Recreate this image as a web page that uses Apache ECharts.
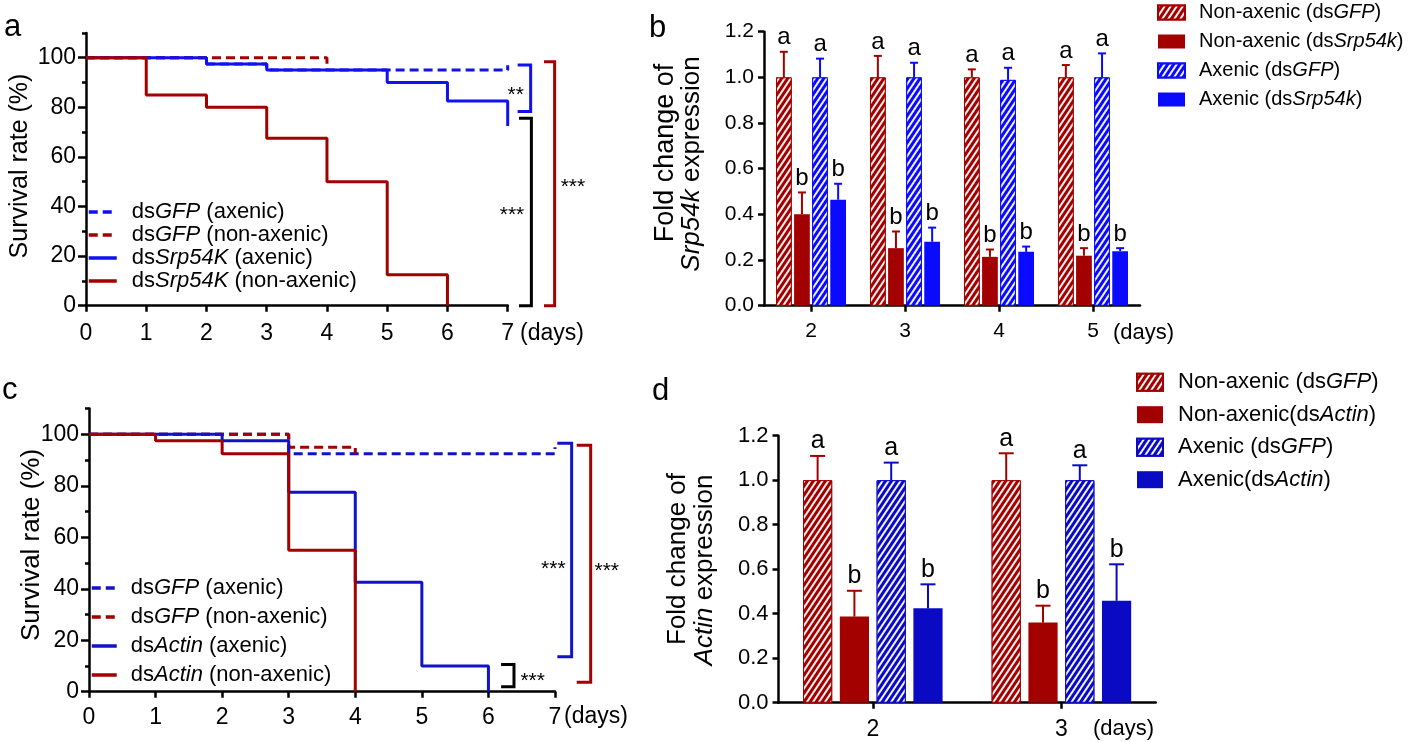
<!DOCTYPE html>
<html><head><meta charset="utf-8">
<script src="https://cdn.jsdelivr.net/npm/echarts@6/dist/echarts.min.js"></script>
<style>html,body{margin:0;padding:0;background:#fff}#c{width:1418px;height:742px}</style>
</head><body><div id="c"></div>
<script>
// ---------- Panel a : survival (Srp54K) ----------
const aGfpAxDays  = [0, 2, 3, 7, 7];
const aGfpAxRate  = [100, 97.5, 95, 95, 97];
const aGfpNonDays = [0, 4];
const aGfpNonRate = [100, 95];
const aSrpAxDays  = [0, 2, 3, 5, 6, 7];
const aSrpAxRate  = [100, 97.5, 95, 90, 82.5, 72.5];
const aSrpNonDays = [0, 1, 2, 3, 4, 5, 6];
const aSrpNonRate = [100, 85, 80, 67.5, 50, 12.5, 0];
// ---------- Panel c : survival (Actin) ----------
const cGfpAxDays  = [0, 3, 7, 7];
const cGfpAxRate  = [100, 92.5, 92.5, 95];
const cGfpNonDays = [0, 3, 4];
const cGfpNonRate = [100, 95, 92.5];
const cActAxDays  = [0, 2, 3, 4, 5, 6];
const cActAxRate  = [100, 97.5, 77.5, 42.5, 10, 0];
const cActNonDays = [0, 1, 2, 3, 4];
const cActNonRate = [100, 97.5, 92.5, 55, 0];
// ---------- Panel b : Srp54k expression ----------
const bDays      = ['2', '3', '4', '5'];
const bNonGfp    = [1.0, 1.0, 1.0, 1.0];
const bNonGfpErr = [0.112, 0.094, 0.035, 0.054];
const bNonSrp    = [0.40, 0.252, 0.214, 0.219];
const bNonSrpErr = [0.096, 0.073, 0.032, 0.033];
const bAxGfp     = [1.0, 1.0, 0.989, 1.0];
const bAxGfpErr  = [0.082, 0.064, 0.053, 0.105];
const bAxSrp     = [0.464, 0.28, 0.236, 0.239];
const bAxSrpErr  = [0.07, 0.062, 0.023, 0.013];
const bLetters   = ['a', 'b', 'a', 'b'];
// ---------- Panel d : Actin expression ----------
const dDays      = ['2', '3'];
const dNonGfp    = [1.0, 1.0];
const dNonGfpErr = [0.109, 0.121];
const dNonAct    = [0.387, 0.36];
const dNonActErr = [0.116, 0.076];
const dAxGfp     = [1.0, 1.0];
const dAxGfpErr  = [0.079, 0.067];
const dAxAct     = [0.424, 0.458];
const dAxActErr  = [0.108, 0.164];
const dLetters   = ['a', 'b', 'a', 'b'];
// ---------- tick labels ----------
const survMajorTicks = [0, 20, 40, 60, 80, 100];
const foldTicks = [0, 0.2, 0.4, 0.6, 0.8, 1.0, 1.2];

const FONT = 'Liberation Sans, Arial, Helvetica, sans-serif';
const RED = '#a30000', BLUE_A = '#1010f0', BLUE_C = '#1212c8', BLUE_B = '#0a0aff', BLUE_D = '#0a0ac4';

const zip = (xs, ys) => xs.map((x, i) => [x, ys[i]]);

// significance brackets (data coordinates of their panel)
const aBrackets = [
  {vx: 7.381, ax: 7.165, top: 97.1, bot: 78.3, color: BLUE_A, label: '**',  lx: 7.132, ly: 86.7},
  {vx: 7.393, ax: 7.187, top: 75.6, bot: 0,    color: '#000', label: '***', lx: 7.071, ly: 38.7},
  {vx: 7.779, ax: 7.602, top: 98.4, bot: 0,    color: RED,    label: '***', lx: 8.083, ly: 49.7}
];
const cBrackets = [
  {vx: 7.25,  ax: 7.035, top: 96.5, bot: 13.6, color: BLUE_C, label: '***', lx: 6.975, ly: 49.6},
  {vx: 7.536, ax: 7.326, top: 95.8, bot: 3.65, color: RED,    label: '***', lx: 7.777, ly: 48.6},
  {vx: 6.384, ax: 6.19,  top: 10.6, bot: 1.9,  color: '#000', label: '***', lx: 6.665, ly: 6.1}
];

function bracketSeries(list, xi, yi) {
  return {
    type: 'custom', xAxisIndex: xi, yAxisIndex: yi, clip: false, silent: true, z: 5,
    data: list.map((b, i) => [b.vx, b.top, i]),
    renderItem: function (params, api) {
      const b = list[api.value(2)];
      const p1 = api.coord([b.ax, b.top]), p2 = api.coord([b.vx, b.top]);
      const p3 = api.coord([b.vx, b.bot]), p4 = api.coord([b.ax, b.bot]);
      const t = api.coord([b.lx, b.ly]);
      return {type: 'group', children: [
        {type: 'polyline', shape: {points: [p1, p2, p3, p4]},
         style: {stroke: b.color, lineWidth: 3, fill: null}},
        {type: 'text', x: t[0], y: t[1] + 5,
         style: {text: b.label, align: 'center', verticalAlign: 'middle', font: '21px ' + FONT, fill: '#000'}}
      ]};
    }
  };
}

function survLine(name, days, rate, color, dashed, xi, yi) {
  return {
    name: name, type: 'line', step: 'end', xAxisIndex: xi, yAxisIndex: yi,
    data: zip(days, rate), symbol: 'none', showSymbol: false, silent: true,
    lineStyle: {color: color, width: 3, type: dashed ? [9, 5] : 'solid', cap: 'butt'},
    itemStyle: {color: color}
  };
}

function hatch(rot) {
  return {symbol: 'rect', symbolSize: 1, dashArrayX: [1, 0], dashArrayY: [2, 3],
          rotation: rot, color: 'rgba(255,255,255,0.95)', backgroundColor: 'rgba(0,0,0,0)'};
}
const HROT = -Math.PI / 3.2;

function barSeries(name, vals, color, hatched, xi, yi, gap, catGap) {
  const s = {
    name: name, type: 'bar', xAxisIndex: xi, yAxisIndex: yi, data: vals, silent: true,
    barGap: gap, barCategoryGap: catGap,
    itemStyle: {color: color, borderColor: color, borderWidth: hatched ? 1 : 0}
  };
  if (hatched) s.itemStyle.decal = hatch(HROT);
  return s;
}

function errSeries(groups, xi, yi, gap, catGap, capW, lw, letters, fontPx, letterOff) {
  const data = [];
  groups.forEach((g, k) => g.vals.forEach((v, c) => data.push([c, v, g.errs[c], k])));
  const n = groups.length;
  return {
    type: 'custom', xAxisIndex: xi, yAxisIndex: yi, silent: true, z: 4, clip: false,
    data: data,
    renderItem: function (params, api) {
      const c = api.value(0), v = api.value(1), e = api.value(2), k = api.value(3);
      const band = api.size([1, 0])[0];
      const remain = band * (1 - catGap);
      const bw = remain / (n + (n - 1) * gap);
      const total = n * bw + (n - 1) * bw * gap;
      const cx = api.coord([c, 0])[0] - total / 2 + k * bw * (1 + gap) + bw / 2;
      const y0 = api.coord([c, v])[1], y1 = api.coord([c, v + e])[1];
      const col = groups[k].color;
      return {type: 'group', children: [
        {type: 'line', shape: {x1: cx, y1: y0, x2: cx, y2: y1}, style: {stroke: col, lineWidth: lw}},
        {type: 'line', shape: {x1: cx - capW / 2, y1: y1, x2: cx + capW / 2, y2: y1}, style: {stroke: col, lineWidth: lw}},
        {type: 'text', x: cx, y: y1 - letterOff,
         style: {text: letters[k], align: 'center', verticalAlign: 'bottom', font: fontPx + 'px ' + FONT, fill: '#000'}}
      ]};
    }
  };
}

const LEG = {
  a1: 'ds{i|GFP} (axenic)', a2: 'ds{i|GFP} (non-axenic)', a3: 'ds{i|Srp54K} (axenic)', a4: 'ds{i|Srp54K} (non-axenic)',
  c1: 'ds{i|GFP} (axenic)', c2: 'ds{i|GFP} (non-axenic)', c3: 'ds{i|Actin} (axenic)', c4: 'ds{i|Actin} (non-axenic)',
  b1: 'Non-axenic (ds{i|GFP})', b2: 'Non-axenic (ds{i|Srp54k})', b3: 'Axenic (ds{i|GFP})', b4: 'Axenic (ds{i|Srp54k})',
  d1: 'Non-axenic (ds{i|GFP})', d2: 'Non-axenic(ds{i|Actin})', d3: 'Axenic (ds{i|GFP})', d4: 'Axenic(ds{i|Actin})'
};
function legend(names, left, top, iw, ih, fs, gap, pad, isLine) {
  const l = {
    data: names, left: left, top: top, orient: 'vertical', itemWidth: iw, itemHeight: ih, itemGap: gap,
    selectedMode: false, padding: 0,
    formatter: n => LEG[n],
    textStyle: {fontFamily: FONT, fontSize: fs, color: '#000', lineHeight: fs + 1, padding: [0, 0, 0, pad],
      rich: {i: {fontStyle: 'italic', fontFamily: FONT, fontSize: fs, color: '#000'}}}
  };
  if (isLine) {
    l.itemStyle = {opacity: 0, borderWidth: 0};
    l.lineStyle = {width: 3.5};
  } else l.icon = 'rect';
  return l;
}

const axLine = {show: true, lineStyle: {color: '#000', width: 2.5}};
const tickStyle = {color: '#000', width: 2.5};
function survX(grid, margin) {
  return {type: 'value', gridIndex: grid, min: 0, max: 7, interval: 1, axisLine: axLine,
    axisTick: {show: true, length: 6, lineStyle: tickStyle}, splitLine: {show: false},
    axisLabel: {fontFamily: FONT, fontSize: 23, color: '#000', margin: margin}};
}
function survYMinor(grid) {
  return {type: 'value', gridIndex: grid, min: 0, max: 110, interval: 10, position: 'left', offset: 0,
    axisLine: axLine, axisTick: {show: true, length: 4, lineStyle: tickStyle},
    axisLabel: {show: false}, splitLine: {show: false}};
}
function survYMajor(grid) {
  return {type: 'value', gridIndex: grid, min: 0, max: 110, interval: 20, position: 'left', offset: 0,
    axisLine: {show: false},
    axisTick: {show: true, length: 8, lineStyle: tickStyle, customValues: survMajorTicks},
    axisLabel: {fontFamily: FONT, fontSize: 23, color: '#000', margin: 10, customValues: survMajorTicks},
    splitLine: {show: false}};
}
function catX(grid, cats, fs, margin) {
  return {type: 'category', gridIndex: grid, data: cats, axisLine: axLine,
    axisTick: {show: true, alignWithLabel: true, length: 6, lineStyle: tickStyle},
    axisLabel: {fontFamily: FONT, fontSize: fs, color: '#000', margin: margin}};
}
function foldY(grid, fs) {
  return {type: 'value', gridIndex: grid, min: 0, max: 1.2, interval: 0.2, axisLine: axLine,
    axisTick: {show: true, length: 6, lineStyle: tickStyle}, splitLine: {show: false},
    axisLabel: {fontFamily: FONT, fontSize: fs, color: '#000', margin: 10, formatter: v => v.toFixed(1)}};
}

const GAP_B = 0.15, CAT_B = 0.255, GAP_D = 0.26, CAT_D = 0.26;
const pct = x => (x * 100) + '%';

function txt(text, x, y, fs, opts) {
  return Object.assign({type: 'text', x: x, y: y, silent: true,
    style: {text: text, font: fs + 'px ' + FONT, fill: '#000', align: 'left', verticalAlign: 'middle',
      rich: {i: {fontStyle: 'italic', fontSize: fs, fontFamily: FONT, fill: '#000'}}}}, opts || {});
}
function vtxt(text, x, y, fs) {
  return {type: 'text', x: x, y: y, rotation: Math.PI / 2, silent: true,
    style: {text: text, font: fs + 'px ' + FONT, fill: '#000', align: 'center', verticalAlign: 'middle',
      rich: {i: {fontStyle: 'italic', fontSize: fs, fontFamily: FONT, fill: '#000'}}}};
}

const option = {
  animation: false,
  backgroundColor: '#fff',
  grid: [
    {left: 86, top: 32.9, width: 421.7, height: 272.8},
    {left: 764, top: 31.7, width: 376, height: 274},
    {left: 89, top: 408.6, width: 466, height: 283.1},
    {left: 778.5, top: 435.7, width: 377.2, height: 267}
  ],
  xAxis: [survX(0, 16), catX(1, bDays, 21, 15), survX(2, 14), catX(3, dDays, 23, 15)],
  yAxis: [survYMinor(0), survYMajor(0), foldY(1, 21), survYMinor(2), survYMajor(2), foldY(3, 22)],
  legend: [
    legend(['a1', 'a2', 'a3', 'a4'], 87, 200.5, 28, 10, 22, 0, 10, true),
    legend(['b1', 'b2', 'b3', 'b4'], 1157, 2, 27, 14, 20, 8, 9, false),
    legend(['c1', 'c2', 'c3', 'c4'], 90, 576.5, 25, 10, 22, 6, 9, true),
    legend(['d1', 'd2', 'd3', 'd4'], 1136, 370.7, 26, 17, 22, 9.5, 10, false)
  ],
  series: [
    survLine('a1', aGfpAxDays, aGfpAxRate, BLUE_A, true, 0, 0),
    survLine('a2', aGfpNonDays, aGfpNonRate, RED, true, 0, 0),
    survLine('a3', aSrpAxDays, aSrpAxRate, BLUE_A, false, 0, 0),
    survLine('a4', aSrpNonDays, aSrpNonRate, RED, false, 0, 0),
    bracketSeries(aBrackets, 0, 0),
    survLine('c1', cGfpAxDays, cGfpAxRate, BLUE_C, true, 2, 3),
    survLine('c2', cGfpNonDays, cGfpNonRate, RED, true, 2, 3),
    survLine('c3', cActAxDays, cActAxRate, BLUE_C, false, 2, 3),
    survLine('c4', cActNonDays, cActNonRate, RED, false, 2, 3),
    bracketSeries(cBrackets, 2, 3),
    barSeries('b1', bNonGfp, RED, true, 1, 2, pct(GAP_B), pct(CAT_B)),
    barSeries('b2', bNonSrp, RED, false, 1, 2, pct(GAP_B), pct(CAT_B)),
    barSeries('b3', bAxGfp, BLUE_B, true, 1, 2, pct(GAP_B), pct(CAT_B)),
    barSeries('b4', bAxSrp, BLUE_B, false, 1, 2, pct(GAP_B), pct(CAT_B)),
    errSeries([{vals: bNonGfp, errs: bNonGfpErr, color: RED}, {vals: bNonSrp, errs: bNonSrpErr, color: RED},
               {vals: bAxGfp, errs: bAxGfpErr, color: BLUE_B}, {vals: bAxSrp, errs: bAxSrpErr, color: BLUE_B}],
              1, 2, GAP_B, CAT_B, 8, 2, bLetters, 24, 2),
    barSeries('d1', dNonGfp, RED, true, 3, 5, pct(GAP_D), pct(CAT_D)),
    barSeries('d2', dNonAct, RED, false, 3, 5, pct(GAP_D), pct(CAT_D)),
    barSeries('d3', dAxGfp, BLUE_D, true, 3, 5, pct(GAP_D), pct(CAT_D)),
    barSeries('d4', dAxAct, BLUE_D, false, 3, 5, pct(GAP_D), pct(CAT_D)),
    errSeries([{vals: dNonGfp, errs: dNonGfpErr, color: RED}, {vals: dNonAct, errs: dNonActErr, color: RED},
               {vals: dAxGfp, errs: dAxGfpErr, color: BLUE_D}, {vals: dAxAct, errs: dAxActErr, color: BLUE_D}],
              3, 5, GAP_D, CAT_D, 15, 2, dLetters, 25, 2)
  ],
  graphic: [
    txt('a', 4, 27, 31), txt('b', 649, 28, 31), txt('c', 2, 390, 31), txt('d', 652, 391.5, 31),
    txt('(days)', 520, 334, 23), txt('(days)', 1113, 333, 22), txt('(days)', 564, 717, 23), txt('(days)', 1093, 729, 22),
    vtxt('Survival rate (%)', 20, 166, 25),
    vtxt('Survival rate (%)', 32, 545, 26),
    vtxt('Fold change of', 666, 153, 27), vtxt('{i|Srp54k} expression', 692, 164, 26),
    vtxt('Fold change of', 678, 559, 26), vtxt('{i|Actin} expression', 705, 570, 26)
  ]
};
const chart = echarts.init(document.getElementById('c'), null, {renderer: 'canvas'});
chart.setOption(option);
</script></body></html>
